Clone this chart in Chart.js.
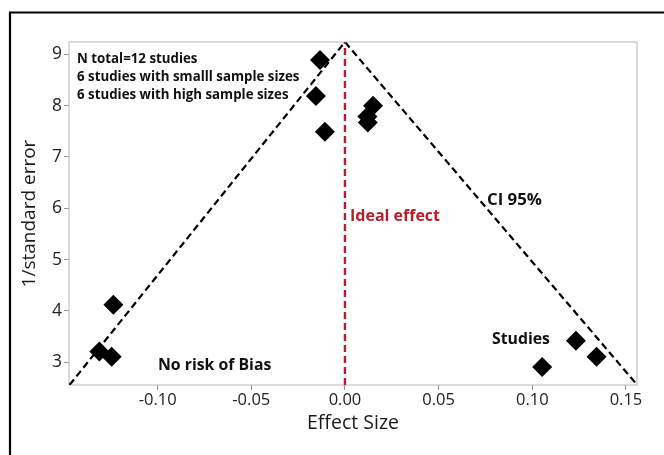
<!DOCTYPE html>
<html lang="en">
  <head>
    <meta charset="UTF-8" />
    <script src="https://cdn.jsdelivr.net/npm/chart.js"></script>
    <title>Funnel plot</title>
    <style>
      body { margin: 0; background: #fff; }
      #grafico { display: block; }
    </style>
  </head>
  <body>
    <canvas id="grafico" width="664" height="455"></canvas>
  </body>
</html>
<script>
  // estudos (effect size, 1/standard error)
  var efeitos = [-0.0133, -0.0155, -0.0107, 0.015, 0.012, 0.0122, -0.1236, -0.1311, -0.1245, 0.1233, 0.1343, 0.1053];
  var precisao = [8.89, 8.19, 7.49, 8.0, 7.79, 7.67, 4.12, 3.21, 3.11, 3.42, 3.11, 2.91];

  // funil (IC 95%) e linha do efeito ideal
  var funilX = [-0.147, 0, 0.1555];
  var funilY = [2.56, 9.24, 2.58];
  var idealX = [0, 0];
  var idealY = [2.558, 9.24];

  var ticksX = [-0.10, -0.05, 0.00, 0.05, 0.10, 0.15];
  var ticksY = [3, 4, 5, 6, 7, 8, 9];

  var textos = ["N total=12 studies", "6 studies with smalll sample sizes", "6 studies with high sample sizes"];
  var fonte = "'Open Sans', 'Noto Sans', sans-serif";

  function pares(xs, ys) {
    var out = [];
    for (var i = 0; i < xs.length; i++) out.push({ x: xs[i], y: ys[i] });
    return out;
  }

  // moldura, borda do grafico e textos
  var extras = {
    id: "extras",
    beforeDraw: function (chart) {
      var ctx = chart.ctx;
      ctx.save();
      ctx.strokeStyle = "#000";
      ctx.lineWidth = 2.2;
      ctx.beginPath();
      ctx.moveTo(10, 455);
      ctx.lineTo(10, 12.5);
      ctx.lineTo(664, 12.5);
      ctx.stroke();
      var a = chart.chartArea;
      ctx.strokeStyle = "#c4c4c4";
      ctx.lineWidth = 1.2;
      ctx.strokeRect(a.left, a.top, a.right - a.left, a.bottom - a.top);
      ctx.restore();
    },
    afterDatasetsDraw: function (chart) {
      var ctx = chart.ctx;
      ctx.save();
      ctx.textBaseline = "middle";
      ctx.textAlign = "left";
      ctx.fillStyle = "#111";
      ctx.font = "bold 13.3px " + fonte;
      ctx.fillText(textos[0], 77, 59);
      ctx.fillText(textos[1], 77, 77.5);
      ctx.fillText(textos[2], 77, 95);
      ctx.font = "bold 15.8px " + fonte;
      ctx.fillText("No risk of Bias", 158, 365);
      ctx.fillText("Studies", 492, 339);
      ctx.font = "bold 16.8px " + fonte;
      ctx.fillText("CI 95%", 487, 200);
      ctx.fillStyle = "#b3202a";
      ctx.font = "bold 16px " + fonte;
      ctx.fillText("Ideal effect", 350, 216);
      ctx.restore();
    },
  };

  var config = {
    type: "scatter",
    data: {
      datasets: [
        {
          label: "Ideal effect",
          type: "line",
          data: pares(idealX, idealY),
          borderColor: "#b3202a",
          borderWidth: 2.4,
          borderDash: [7, 4],
          pointRadius: 0,
          fill: false,
        },
        {
          label: "CI 95%",
          type: "line",
          data: pares(funilX, funilY),
          borderColor: "#000",
          borderWidth: 2.2,
          borderDash: [7, 4],
          pointRadius: 0,
          tension: 0,
          fill: false,
        },
        {
          label: "Studies",
          data: pares(efeitos, precisao),
          pointStyle: "rectRot",
          pointRadius: 10,
          backgroundColor: "#000",
          borderColor: "#000",
          borderWidth: 0,
        },
      ],
    },
    options: {
      responsive: false,
      animation: false,
      layout: { padding: { left: 0, top: 42, right: 27, bottom: 0 } },
      plugins: { legend: { display: false }, tooltip: { enabled: false } },
      scales: {
        x: {
          type: "linear",
          min: -0.1473,
          max: 0.1559,
          afterFit: function (s) { s.height = 70; },
          afterBuildTicks: function (s) { s.ticks = ticksX.map(function (v) { return { value: v }; }); },
          grid: { display: true, drawOnChartArea: false, tickLength: 5, color: "#999" },
          border: { display: false },
          ticks: {
            padding: 0,
            color: "#222",
            font: { family: fonte, size: 16.5 },
            callback: function (v) { return v.toFixed(2); },
          },
          title: {
            display: true,
            text: "Effect Size",
            color: "#1a1a1a",
            font: { family: fonte, size: 19.5, weight: "500" },
            padding: { top: 0, bottom: 20 },
          },
        },
        y: {
          type: "linear",
          min: 2.558,
          max: 9.24,
          afterFit: function (s) { s.width = 69; },
          afterBuildTicks: function (s) { s.ticks = ticksY.map(function (v) { return { value: v }; }); },
          grid: { display: true, drawOnChartArea: false, tickLength: 5, color: "#999" },
          border: { display: false },
          ticks: {
            padding: 2,
            color: "#222",
            font: { family: fonte, size: 17.5 },
          },
          title: {
            display: true,
            text: "1/standard error",
            color: "#1a1a1a",
            font: { family: fonte, size: 19, weight: "500" },
            padding: { top: 18, bottom: 0 },
          },
        },
      },
    },
    plugins: [extras],
  };

  var grafico = new Chart(document.getElementById("grafico"), config);
</script>
